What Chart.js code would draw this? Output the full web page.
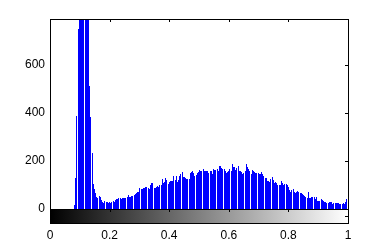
<!DOCTYPE html>
<html>
<head>
<meta charset="utf-8">
<title>Histograma</title>
<script src="https://cdn.jsdelivr.net/npm/chart.js@4/dist/chart.umd.min.js"></script>
<style>
    html, body { margin: 0; padding: 0; background: #ffffff; }
    #wrap { width: 385px; height: 252px; }
</style>
</head>
<body>
<div id="wrap"><canvas id="histChart" width="385" height="252"></canvas></div>
<script>
    // Conteos de los 256 bins
    const binCounts = [
        0, 0, 0, 0, 0, 0, 0, 0, 0, 0, 0, 0, 0, 0, 0, 0,
        0, 0, 0, 0, 0, 17, 130, 388, 750, 1150, 1400, 1600, 1500, 1300, 1150, 1000,
        900, 820, 512, 384, 233, 104, 82, 66, 50, 45, 56, 50, 38, 30, 27, 32,
        28, 28, 27, 28, 26, 30, 34, 30, 38, 42, 40, 44, 46, 40, 47, 46,
        47, 47, 48, 58, 51, 51, 52, 56, 58, 61, 68, 70, 72, 89, 82, 84,
        86, 89, 90, 93, 89, 83, 100, 110, 107, 89, 89, 93, 97, 93, 98, 101,
        124, 107, 111, 130, 121, 103, 113, 117, 117, 115, 138, 121, 139, 113, 120, 138,
        146, 153, 135, 131, 128, 126, 126, 125, 151, 155, 158, 150, 137, 140, 150, 155,
        162, 160, 158, 165, 160, 156, 160, 156, 151, 156, 158, 144, 165, 163, 162, 165,
        156, 179, 179, 169, 167, 165, 156, 151, 153, 156, 165, 156, 188, 176, 174, 163,
        170, 177, 158, 158, 155, 146, 150, 158, 188, 175, 165, 160, 146, 162, 158, 152,
        150, 149, 151, 146, 144, 153, 146, 138, 130, 128, 117, 116, 114, 125, 135, 121,
        107, 114, 107, 100, 100, 100, 117, 107, 100, 103, 103, 100, 90, 78, 72, 78,
        83, 69, 66, 72, 74, 72, 65, 68, 61, 58, 56, 50, 47, 69, 45, 47,
        51, 50, 49, 42, 51, 35, 35, 35, 40, 37, 35, 31, 28, 27, 26, 31,
        28, 30, 21, 23, 24, 26, 26, 25, 19, 20, 21, 24, 21, 31, 42, 30
    ];

    // Centros de los bins: intensidades 0..1
    const binCenters = binCounts.map(function(_, i) { return i / 255; });

    // Ejes
    const xTickValues = [0, 0.2, 0.4, 0.6, 0.8, 1];
    const xTickLabels = ['0', '0.2', '0.4', '0.6', '0.8', '1'];
    const yTickValues = [0, 200, 400, 600];
    const yTickLabels = ['0', '200', '400', '600'];
    const yMax = 790;

    const tickFont = { family: '"Liberation Sans", Arial, sans-serif', size: 12 };

    /**
     * Barras como lineas de 1 px ajustadas al pixel (como los stems de imhist)
     */
    const pixelStems = {
        id: 'pixelStems',
        beforeDatasetsDraw: function(chart) {
            chart.getDatasetMeta(0).data.forEach(function(bar) {
                bar.x = Math.floor(bar.x) + 0.5;
                bar.y = Math.round(bar.y);
                bar.width = 1;
            });
        }
    };

    /**
     * Marco de los ejes, marcas interiores y barra de grises
     */
    const imhistFrame = {
        id: 'imhistFrame',
        afterDraw: function(chart) {
            const ctx = chart.ctx;
            const area = chart.chartArea;
            const xs = chart.scales.x;
            const ys = chart.scales.y;
            const barTop = area.bottom;
            const barH = 15;

            ctx.save();

            // Barra de grises bajo el histograma
            const grad = ctx.createLinearGradient(area.left, 0, area.right, 0);
            grad.addColorStop(0, '#000000');
            grad.addColorStop(1, '#ffffff');
            ctx.fillStyle = grad;
            ctx.fillRect(area.left, barTop, area.right - area.left, barH);

            ctx.strokeStyle = '#000000';
            ctx.lineWidth = 1;

            // Marco del histograma
            ctx.strokeRect(Math.round(area.left) + 0.5, Math.round(area.top) + 0.5,
                Math.round(area.right - area.left), Math.round(area.bottom - area.top));

            // Marco de la barra de grises
            ctx.strokeRect(Math.round(area.left) + 0.5, Math.round(barTop) + 0.5,
                Math.round(area.right - area.left), barH - 1);

            ctx.beginPath();
            // Marcas superiores e inferiores
            xTickValues.slice(1, -1).forEach(function(v) {
                const px = Math.round(xs.getPixelForValue(v)) + 0.5;
                ctx.moveTo(px, area.top);
                ctx.lineTo(px, area.top + 3);
                ctx.moveTo(px, barTop);
                ctx.lineTo(px, barTop + 3);
            });
            // Marcas del lado derecho
            yTickValues.slice(1).forEach(function(v) {
                const py = Math.round(ys.getPixelForValue(v)) + 0.5;
                ctx.moveTo(area.right, py);
                ctx.lineTo(area.right - 3, py);
            });
            ctx.moveTo(area.right, barTop + 7.5);
            ctx.lineTo(area.right - 3, barTop + 7.5);
            ctx.stroke();

            ctx.restore();
        }
    };

    new Chart(document.getElementById('histChart').getContext('2d'), {
        type: 'bar',
        data: {
            datasets: [{
                data: binCenters.map(function(x, i) { return { x: x, y: binCounts[i] }; }),
                backgroundColor: '#0000ff',
                borderWidth: 0,
                inflateAmount: 0,
                barPercentage: 1,
                categoryPercentage: 1
            }]
        },
        plugins: [pixelStems, imhistFrame],
        options: {
            responsive: false,
            devicePixelRatio: 1,
            animation: false,
            layout: { padding: { left: 0, right: 37, top: 19, bottom: 0 } },
            plugins: {
                legend: { display: false },
                tooltip: { enabled: false }
            },
            scales: {
                x: {
                    type: 'linear',
                    min: 0,
                    max: 1,
                    offset: false,
                    grid: { display: false, drawTicks: false },
                    border: { display: false },
                    afterBuildTicks: function(scale) {
                        scale.ticks = xTickValues.map(function(v) { return { value: v }; });
                    },
                    afterFit: function(scale) { scale.height = 43; },
                    ticks: {
                        autoSkip: false,
                        maxRotation: 0,
                        padding: 19,
                        color: '#000000',
                        font: tickFont,
                        callback: function(value, index) { return xTickLabels[index]; }
                    }
                },
                y: {
                    min: 0,
                    max: yMax,
                    grid: { display: false, drawTicks: false },
                    border: { display: false },
                    afterBuildTicks: function(scale) {
                        scale.ticks = yTickValues.map(function(v) { return { value: v }; });
                    },
                    afterFit: function(scale) { scale.width = 50; },
                    ticks: {
                        padding: 5,
                        color: '#000000',
                        font: tickFont,
                        callback: function(value, index) { return yTickLabels[index]; }
                    }
                }
            }
        }
    });
</script>
</body>
</html>
